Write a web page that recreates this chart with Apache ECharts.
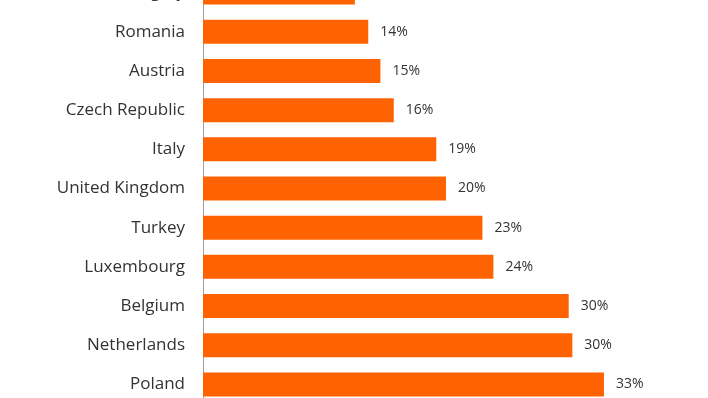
<!DOCTYPE html>
<html>
<head>
<meta charset="utf-8">
<script src="https://cdn.jsdelivr.net/npm/echarts@6/dist/echarts.min.js"></script>
<style>
  html, body { margin: 0; padding: 0; background: #fff; overflow: hidden; }
  #wrap { position: relative; width: 708px; height: 398px; overflow: hidden; }
  /* the source image is cropped: the first bar is cut off at the top */
  #chart { position: absolute; left: 0; top: -27px; width: 708px; height: 431px; }
</style>
</head>
<body>
<div id="wrap"><div id="chart"></div></div>
<script>
// countries, top to bottom
var countries = ['Hungary', 'Romania', 'Austria', 'Czech Republic', 'Italy', 'United Kingdom',
  'Turkey', 'Luxembourg', 'Belgium', 'Netherlands', 'Poland'];
// share, %
var shares = [12.5, 13.6, 14.6, 15.7, 19.2, 20.0, 23.0, 23.9, 30.1, 30.4, 33.0];

var chart = echarts.init(document.getElementById('chart'));
var option = {
  animation: false,
  backgroundColor: '#fff',
  grid: { left: 203, right: 19, top: 0, bottom: 0, containLabel: false },
  xAxis: {
    type: 'value',
    min: 0,
    max: 40,
    show: false
  },
  yAxis: {
    type: 'category',
    data: countries,
    inverse: true,
    axisTick: { show: false },
    axisLine: { show: true, lineStyle: { color: '#a0a0a0', width: 1 } },
    axisLabel: {
      margin: 18,
      fontFamily: 'Open Sans',
      fontSize: 17,
      color: '#333'
    }
  },
  series: [{
    type: 'bar',
    data: shares,
    barWidth: 24,
    itemStyle: { color: '#ff6200' },
    label: {
      show: true,
      position: 'right',
      distance: 12,
      fontFamily: 'Open Sans',
      fontSize: 14,
      color: '#333',
      formatter: function (p) { return Math.round(p.value) + '%'; }
    }
  }]
};
chart.setOption(option);
window.addEventListener('resize', () => {
  chart.resize();
});
</script>
</body>
</html>
